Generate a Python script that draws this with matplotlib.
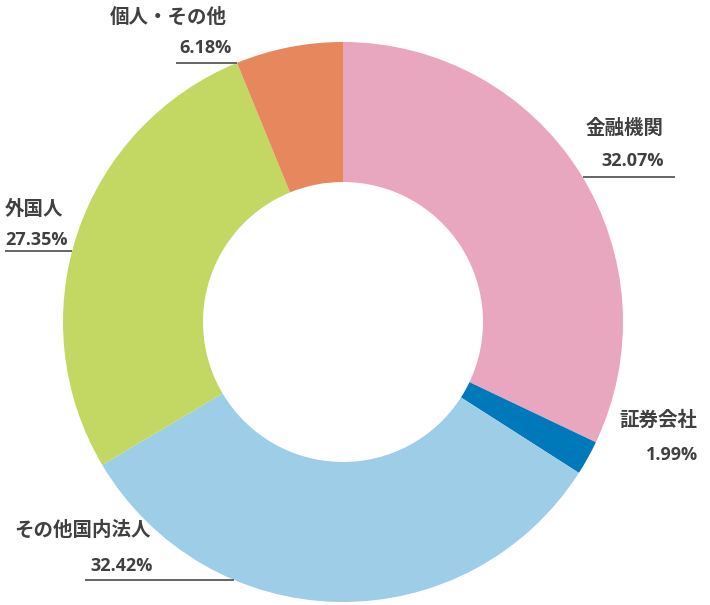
import numpy as np
import matplotlib
matplotlib.use("Agg")
import matplotlib.pyplot as plt

# ─── Data ────────────────────────────────────────────────────────────────────
labels = ["金融機関", "証券会社", "その他国内法人", "外国人", "個人・その他"]
shares = [32.07, 1.99, 32.42, 27.35, 6.18]
colors = ["#E9A7BF", "#0079BA", "#9DCDE7", "#C2D862", "#E6875E"]

# label layout in pixel coords (x, y from top): name, percent, leader line y / x-end, alignment
W, H = 710, 605
CX, CY, R = 343, 322, 280
name_pos = [(625, 128), (658, 420), (14, 530), (5, 209), (110, 17)]
pct_pos = [(633, 161), (672, 455), (122, 566), (5, 240), (205, 48)]
name_ha = ["center", "center", "left", "left", "left"]
pct_ha = ["center", "center", "center", "left", "center"]
leader = [(177, 675), None, (580, 85), (251, 5), (63, 176)]

TXT = "#404040"
plt.rcParams['font.family'] = ['Noto Sans CJK JP', 'DejaVu Sans']

fig = plt.figure(figsize=(W / 100, H / 100), dpi=100)
ax = fig.add_axes([0, 0, 1, 1])

ax.pie(shares, colors=colors, startangle=90, counterclock=False,
       center=(CX, H - CY), radius=R,
       wedgeprops=dict(width=R * 0.5, linewidth=0))

for i, lab in enumerate(labels):
    nx, ny = name_pos[i]
    px, py = pct_pos[i]
    ax.text(nx, H - ny, lab, ha=name_ha[i], va="center", fontsize=14,
            fontweight="bold", color=TXT)
    ax.text(px, H - py, f"{shares[i]:.2f}%", ha=pct_ha[i], va="center",
            fontsize=13, fontweight="bold", color=TXT,
            family=["Open Sans", "DejaVu Sans"])
    if leader[i] is not None:
        ly, lx = leader[i]
        dy = CY - ly
        dx = np.sqrt(max(R ** 2 - dy ** 2, 0))
        ex = CX + dx if lx > CX else CX - dx
        ax.plot([lx, ex], [H - ly, H - ly], color="#595959", linewidth=1.3,
                solid_capstyle="butt")

ax.set_xlim(0, W)
ax.set_ylim(0, H)
ax.set_aspect("equal")
ax.axis("off")

fig.savefig("out.png", dpi=100, facecolor="white")
